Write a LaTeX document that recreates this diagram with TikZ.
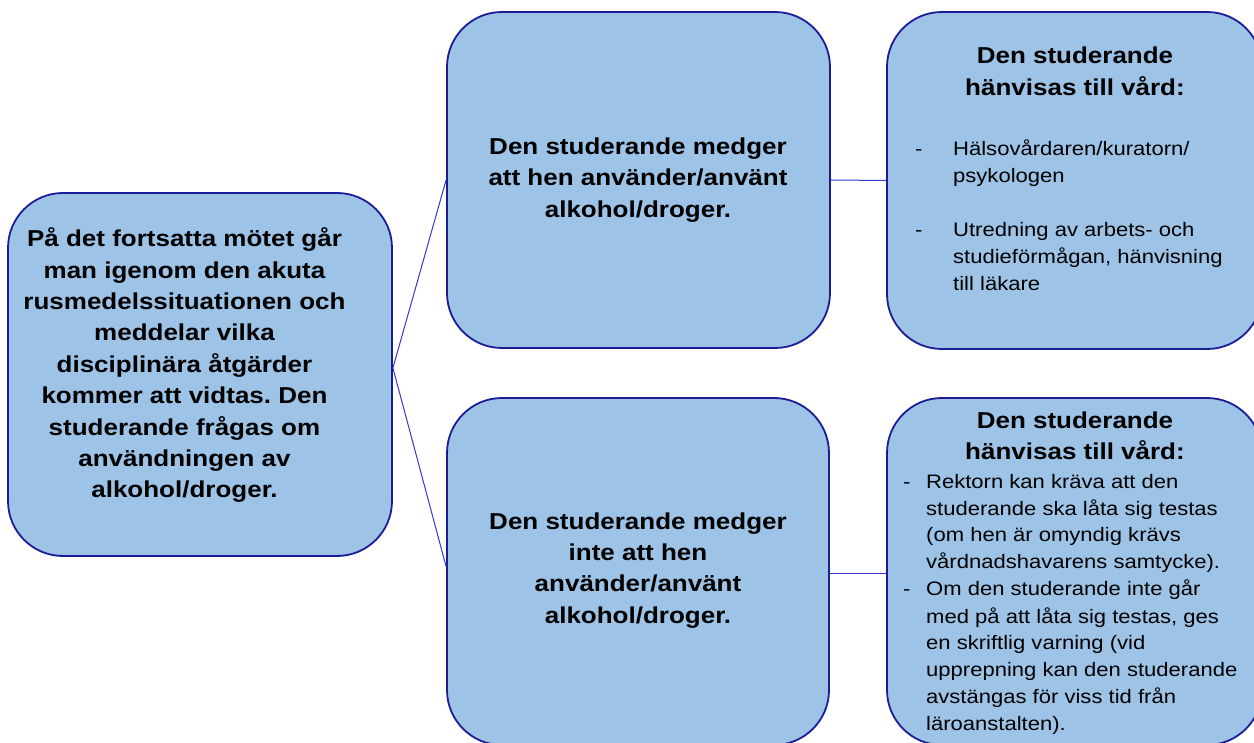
\documentclass[tikz,border=0pt]{standalone}
\usepackage{fontspec}
\newfontfamily\boxfont{Liberation Sans}[FakeStretch=1.13]
\frenchspacing
\definecolor{boxfill}{HTML}{9DC3E6}
\definecolor{boxline}{HTML}{1C1C96}
\definecolor{linkline}{HTML}{3535D5}
\tikzset{
  box/.style={draw=boxline, fill=boxfill, line width=1.8pt, rounded corners=55pt, inner sep=0pt},
  link/.style={draw=linkline, line width=1pt},
  headtxt/.style={inner sep=0pt, anchor=base, font=\boxfont\bfseries\fontsize{23}{31.4}\selectfont},
  listtxt/.style={inner sep=0pt, anchor=base west, font=\boxfont\fontsize{19.5}{27}\selectfont},
}
\begin{document}
\begin{tikzpicture}[x=1pt,y=-1pt]
    \useasboundingbox (0,0) rectangle (1254,743);

    % fortsatta motet
    \node[box, minimum width=384pt, minimum height=363pt] (ask) at (200,374.5) {};
    \node[headtxt] (askt) at (184.5,246.7) {\begin{tabular}[t]{@{}c@{}}
      På det fortsatta mötet går\\ man igenom den akuta\\ rusmedelssituationen och\\
      meddelar vilka\\ disciplinära åtgärder\\ kommer att vidtas. Den\\
      studerande frågas om\\ användningen av\\ alkohol/droger.\end{tabular}};

    % medger
    \node[box, minimum width=383pt, minimum height=336pt] (admit) at (638.5,180) {};
    \node[headtxt] (admitt) at (638,154.5) {\begin{tabular}[t]{@{}c@{}}
      Den studerande medger\\ att hen använder/använt\\ alkohol/droger.\end{tabular}};

    % medger inte
    \node[box, minimum width=382pt, minimum height=347pt] (deny) at (638,571.5) {};
    \node[headtxt] (denyt) at (638,529) {\begin{tabular}[t]{@{}c@{}}
      Den studerande medger\\ inte att hen\\ använder/använt\\ alkohol/droger.\end{tabular}};

    % hanvisas till vard (1)
    \node[box, minimum width=375pt, minimum height=337pt] (careA) at (1074.5,180.5) {};
    \node[headtxt] (careAhead) at (1075,64) {\begin{tabular}[t]{@{}c@{}}
      Den studerande\\ hänvisas till vård:\end{tabular}};
    \node[listtxt] (careAlist) at (915,156) {\begin{tabular}[t]{@{}p{38pt}@{}l@{}}
      - & Hälsovårdaren/kuratorn/\\ & psykologen\\ & \\
      - & Utredning av arbets- och\\ & studieförmågan, hänvisning\\ & till läkare\end{tabular}};

    % hanvisas till vard (2)
    \node[box, minimum width=375pt, minimum height=347pt] (careB) at (1074.5,571.5) {};
    \node[headtxt] (careBhead) at (1075,428.5) {\begin{tabular}[t]{@{}c@{}}
      Den studerande\\ hänvisas till vård:\end{tabular}};
    \node[listtxt] (careBlist) at (903,488) {\begin{tabular}[t]{@{}p{23pt}@{}l@{}}
      - & Rektorn kan kräva att den\\ & studerande ska låta sig testas\\
        & (om hen är omyndig krävs\\ & vårdnadshavarens samtycke).\\
      - & Om den studerande inte går\\ & med på att låta sig testas, ges\\
        & en skriftlig varning (vid\\ & upprepning kan den studerande\\
        & avstängas för viss tid från\\ & läroanstalten).\end{tabular}};

    \draw[link] ([yshift=6.5pt]ask.east) -- (admit.west);
    \draw[link] ([yshift=6.5pt]ask.east) -- ([yshift=5pt]deny.west);
    \draw[link] (admit.east) -- (careA.west);
    \draw[link] ([yshift=-1.5pt]deny.east) -- ([yshift=-1.5pt]careB.west);

\end{tikzpicture}
\end{document}
